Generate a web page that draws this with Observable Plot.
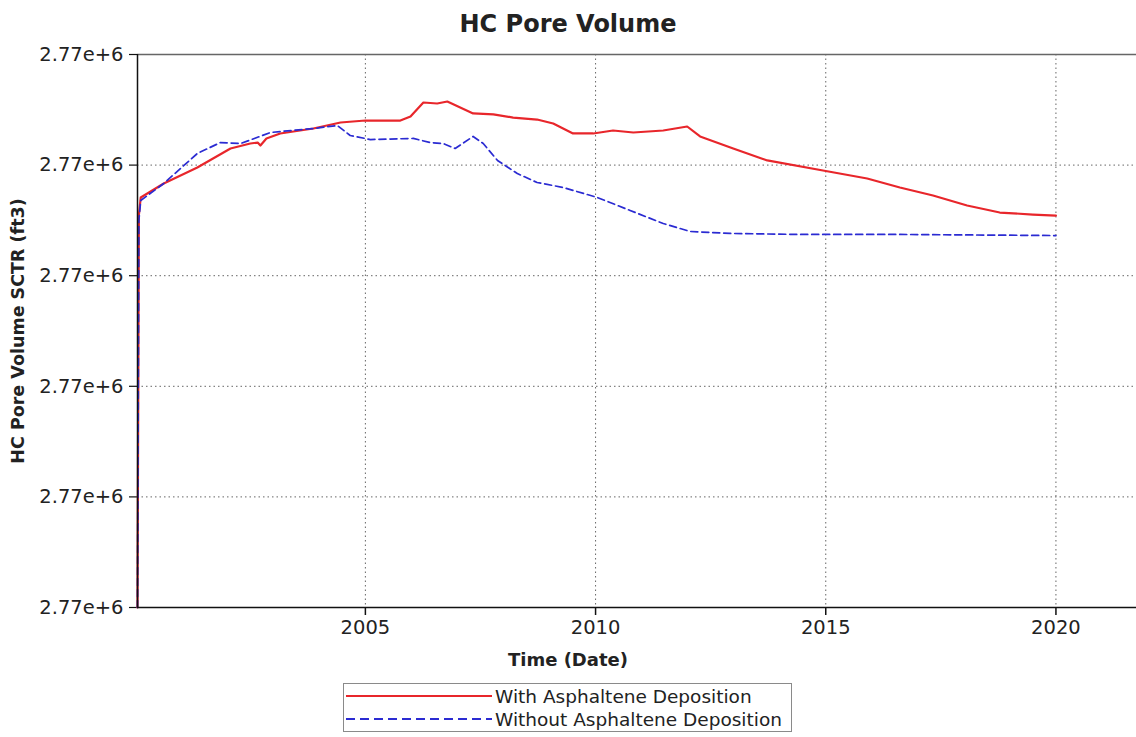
<!DOCTYPE html>
<html>
<head>
<meta charset="utf-8">
<script src="https://cdn.jsdelivr.net/npm/d3@7"></script>
<script src="https://cdn.jsdelivr.net/npm/@observablehq/plot@0.6"></script>
<style>
  html, body { margin: 0; padding: 0; background: #fff; }
  #wrap { position: relative; width: 1136px; height: 737px; overflow: hidden; font-family: "DejaVu Sans", sans-serif; color: #222; }
  #chart { position: absolute; left: 0; top: 0; }
  .title { position: absolute; left: 0; width: 1136px; top: 10px; text-align: center; font-weight: bold; font-size: 24px; }
  .xlabel { position: absolute; left: 0; width: 1136px; top: 649px; text-align: center; font-weight: bold; font-size: 18px; }
  .ylabel { position: absolute; left: 18px; top: 331px; transform: translate(-50%, -50%) rotate(-90deg); white-space: nowrap; font-weight: bold; font-size: 17.5px; }
  .legend { position: absolute; left: 343px; top: 683px; width: 449px; height: 49px; border: 1px solid #8a8a8a; box-sizing: border-box; }
  .legend .row { position: absolute; left: 2px; height: 22px; display: flex; align-items: center; font-size: 18.5px; }
  .legend svg { width: 146px; height: 22px; margin-right: 3px; }
</style>
</head>
<body>
<div id="wrap">
  <div id="chart"></div>
  <div class="title" id="title"></div>
  <div class="ylabel" id="ylabel"></div>
  <div class="xlabel" id="xlabel"></div>
  <div class="legend" id="legend"></div>
</div>
<script>
// ---- Data (y in grid units above the lowest 2.77e+6 tick) ----
const chartTitle = "HC Pore Volume";
const xAxisLabel = "Time (Date)";
const yAxisLabel = "HC Pore Volume SCTR (ft3)";
const seriesNames = ["With Asphaltene Deposition", "Without Asphaltene Deposition"];
const seriesColors = ["#e8262b", "#2b2bd2"];

const xTicks = [2005, 2010, 2015, 2020];
const yTicks = [0, 1, 2, 3, 4, 5];
const yTickLabels = ["2.77e+6", "2.77e+6", "2.77e+6", "2.77e+6", "2.77e+6", "2.77e+6"];
const xDomain = [2000.05, 2021.75];
const yDomain = [0, 5];

const withYears = [2000.05, 2000.08, 2000.12, 2000.62, 2001.35, 2002.07, 2002.5, 2002.66, 2002.72, 2002.85, 2003.15, 2003.87, 2004.46, 2005.0, 2005.76, 2005.98, 2006.26, 2006.56, 2006.78, 2007.34, 2007.78, 2008.21, 2008.73, 2009.08, 2009.51, 2009.95, 2010.38, 2010.82, 2011.47, 2011.99, 2012.27, 2012.99, 2013.73, 2014.94, 2015.90, 2016.61, 2017.33, 2018.07, 2018.78, 2019.50, 2020.0];
const withValues = [0, 3.55, 3.707, 3.834, 3.978, 4.150, 4.195, 4.204, 4.177, 4.24, 4.286, 4.331, 4.385, 4.403, 4.403, 4.44, 4.566, 4.557, 4.575, 4.467, 4.458, 4.430, 4.412, 4.376, 4.286, 4.286, 4.313, 4.295, 4.313, 4.349, 4.259, 4.150, 4.042, 3.951, 3.879, 3.797, 3.725, 3.635, 3.571, 3.553, 3.544];

const withoutYears = [2000.05, 2000.08, 2000.12, 2000.62, 2001.35, 2001.85, 2002.29, 2002.94, 2003.87, 2004.39, 2004.67, 2005.11, 2006.04, 2006.41, 2006.69, 2006.95, 2007.34, 2007.56, 2007.87, 2008.30, 2008.73, 2009.30, 2010.04, 2010.75, 2011.47, 2012.05, 2012.92, 2014.44, 2016.61, 2020.0];
const withoutValues = [0, 3.5, 3.680, 3.834, 4.105, 4.204, 4.195, 4.295, 4.331, 4.358, 4.268, 4.231, 4.241, 4.204, 4.195, 4.150, 4.259, 4.195, 4.042, 3.924, 3.843, 3.797, 3.707, 3.590, 3.472, 3.400, 3.382, 3.373, 3.373, 3.363];

// ---- Build tables ----
const withData = withYears.map((t, i) => ({t, v: withValues[i]}));
const withoutData = withoutYears.map((t, i) => ({t, v: withoutValues[i]}));

const gridStyle = {stroke: "#555", strokeOpacity: 0.9, strokeDasharray: "1.5,3", strokeWidth: 1};

const plot = Plot.plot({
  width: 1136,
  height: 737,
  marginLeft: 137,
  marginRight: 0,
  marginTop: 54,
  marginBottom: 130,
  style: {fontFamily: "DejaVu Sans, sans-serif", fontSize: "19.5px", color: "#222", background: "white", overflow: "visible"},
  x: {type: "linear", domain: xDomain},
  y: {type: "linear", domain: yDomain},
  marks: [
    Plot.gridY(yTicks.slice(1, 5), gridStyle),
    Plot.gridX(xTicks, gridStyle),
    Plot.ruleY([yDomain[1]], {stroke: "#666", strokeWidth: 1.5}),
    Plot.axisY(yTicks, {tickSize: 8, tickPadding: 6, tickFormat: (d, i) => yTickLabels[i], label: null, stroke: "#111", strokeWidth: 1.2}),
    Plot.axisX(xTicks, {tickSize: 8, tickPadding: 5, tickFormat: d => String(d), label: null, stroke: "#111", strokeWidth: 1.5}),
    Plot.line(withData, {x: "t", y: "v", stroke: seriesColors[0], strokeWidth: 2.2}),
    Plot.line(withoutData, {x: "t", y: "v", stroke: seriesColors[1], strokeWidth: 1.7, strokeDasharray: "7,4"}),
    Plot.ruleY([yDomain[0]], {stroke: "#111", strokeWidth: 1.5}),
    Plot.ruleX([xDomain[0]], {stroke: "#111", strokeWidth: 1.5})
  ]
});
document.getElementById("chart").appendChild(plot);

document.getElementById("title").textContent = chartTitle;
document.getElementById("xlabel").textContent = xAxisLabel;
document.getElementById("ylabel").textContent = yAxisLabel;

// ---- Legend ----
const legend = document.getElementById("legend");
seriesNames.forEach((name, i) => {
  const row = document.createElement("div");
  row.className = "row";
  row.style.top = (i === 0 ? 1 : 24) + "px";
  const ns = "http://www.w3.org/2000/svg";
  const svg = document.createElementNS(ns, "svg");
  const ln = document.createElementNS(ns, "line");
  ln.setAttribute("x1", 0); ln.setAttribute("x2", 146);
  ln.setAttribute("y1", 11); ln.setAttribute("y2", 11);
  ln.setAttribute("stroke", seriesColors[i]);
  ln.setAttribute("stroke-width", i === 0 ? 2 : 1.8);
  if (i === 1) ln.setAttribute("stroke-dasharray", "9,5");
  svg.appendChild(ln);
  row.appendChild(svg);
  const span = document.createElement("span");
  span.textContent = name;
  row.appendChild(span);
  legend.appendChild(row);
});
</script>
</body>
</html>
